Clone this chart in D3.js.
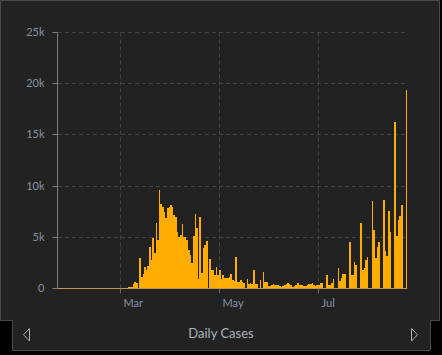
<!DOCTYPE html>
<html>
<head>
<meta charset="utf-8">
<script src="https://cdn.jsdelivr.net/npm/d3@7"></script>
<style>
html,body{margin:0;padding:0;background:#000;}
svg{display:block;font-family:Lato,"Open Sans",sans-serif;}
</style>
</head>
<body>
<svg id="chart" width="442" height="355"></svg>
<script>
// ---- data ----
const startDate = "2020-01-22";
const dailyCases = [
  // Jan 22 - Jan 31
  0,0,0,0,0,0,0,0,0,0,
  // Feb
  1,0,0,0,0,0,0,0,1,0,0,0,0,0,0,0,0,0,0,0,0,0,0,0,4,7,2,17,13,
  // Mar
  39,36,45,57,37,141,100,173,400,622,582,0,2955,1159,1407,2144,1806,2162,4053,2800,4964,3500,6400,4749,9630,8271,7933,7516,6875,7846,7967,
  // Apr
  8195,7947,7134,6969,5478,5029,5267,6278,5002,5051,4754,3804,3268,2442,5103,7304,5891,887,6948,1536,3968,4211,4635,0,2915,1800,1831,1350,2144,1300,
  // May
  1800,900,1350,1050,1050,1000,1150,1400,800,750,3086,594,661,849,643,515,0,908,431,518,482,1787,466,482,0,859,0,1647,658,664,251,
  // Jun
  250,294,394,334,318,332,240,167,249,314,427,502,396,323,181,219,355,585,307,363,334,232,248,334,400,419,564,301,200,301,
  // Jul
  390,550,520,0,0,1300,350,380,500,900,0,0,2045,700,1000,1400,1400,0,0,4581,1358,1357,2615,2255,0,0,6361,1829,2031,2789,3092,
  // Aug 1 - Aug 24
  0,0,8532,5760,2953,4088,4507,0,0,8618,3632,3172,7550,5479,0,0,16269,5114,6671,7039,8148,0,0,19382
];
const yTicks = [0, 5000, 10000, 15000, 20000, 25000];
const yTickLabels = ["0", "5k", "10k", "15k", "20k", "25k"];
const xTickDates = ["2020-03-01", "2020-05-01", "2020-07-01"];
const xTickLabels = ["Mar", "May", "Jul"];
const footerTitle = "Daily Cases";

// ---- setup ----
const parse = d3.utcParse("%Y-%m-%d");
const start = parse(startDate);
const data = dailyCases.map((v, i) => ({date: d3.utcDay.offset(start, i), value: v}));

const svg = d3.select("#chart");

// panel with tab
svg.append("path")
  .attr("d", "M0.5,320.5 V0.5 H439.5 V320.5 H430.5 V350.5 H12.5 V320.5 Z")
  .attr("fill", "#222222")
  .attr("stroke", "#4a4a4a")
  .attr("stroke-width", 1);

const x = d3.scaleUtc()
  .domain([start, d3.utcDay.offset(start, dailyCases.length)])
  .range([57, 408]);
const y = d3.scaleLinear().domain([0, 25000]).range([288.5, 32.5]);
const crisp = v => Math.floor(v) + 0.5;

// grid
const grid = svg.append("g").attr("stroke", "#434343").attr("stroke-dasharray", "4,3").attr("fill", "none");
grid.selectAll("line.h").data(yTicks.slice(1)).join("line")
  .attr("class", "h")
  .attr("x1", 58).attr("x2", 407)
  .attr("y1", d => crisp(y(d))).attr("y2", d => crisp(y(d)));
grid.selectAll("line.v").data(xTickDates.map(parse)).join("line")
  .attr("class", "v")
  .attr("x1", d => crisp(x(d))).attr("x2", d => crisp(x(d)))
  .attr("y1", y(25000)).attr("y2", y(0));

// bars (pixel-snapped edges so neighbouring bars join without seams)
const step = x(d3.utcDay.offset(start, 1)) - x(start);
const left = d => Math.round(x(d.date) - step / 2 + 0.3);
const right = d => Math.round(x(d.date) + step / 2 + 0.3);
svg.append("g").attr("fill", "#ffad00").attr("shape-rendering", "crispEdges")
  .selectAll("rect").data(data.filter(d => d.value > 0)).join("rect")
  .attr("x", left)
  .attr("width", d => Math.max(1, right(d) - left(d)))
  .attr("y", d => Math.round(y(d.value)))
  .attr("height", d => Math.round(y(0) + 0.5) - Math.round(y(d.value)));

// baseline
svg.append("line")
  .attr("x1", 57).attr("x2", x(data[data.length - 1].date) + step / 2)
  .attr("y1", y(0)).attr("y2", y(0))
  .attr("stroke", "#c29a4c").attr("stroke-width", 1);

// y axis
const yAxis = d3.axisLeft(y)
  .tickValues(yTicks)
  .tickFormat((d, i) => yTickLabels[i])
  .tickSizeInner(5).tickSizeOuter(5).tickPadding(8).offset(0);
const gy = svg.append("g").attr("transform", "translate(57.5,0)").call(yAxis);
gy.selectAll(".tick").attr("transform", d => `translate(0,${crisp(y(d))})`);
gy.select(".domain").attr("stroke", "#7c7c7c");
gy.selectAll(".tick line").attr("stroke", "#7c7c7c");
gy.selectAll(".tick text").attr("fill", "#8593a0").attr("font-size", 11)
  .attr("font-family", "Lato, 'Open Sans', sans-serif");

// x axis
const xAxis = d3.axisBottom(x)
  .tickValues(xTickDates.map(parse))
  .tickFormat((d, i) => xTickLabels[i])
  .tickSizeInner(5).tickSizeOuter(0).tickPadding(6).offset(0);
const gx = svg.append("g").attr("transform", `translate(0,${y(0)})`).call(xAxis);
gx.select(".domain").remove();
gx.selectAll(".tick").attr("transform", d => `translate(${crisp(x(d))},0)`);
gx.selectAll(".tick line").attr("stroke", "#6c6c6c");
gx.selectAll(".tick text").attr("fill", "#8593a0").attr("font-size", 11)
  .attr("text-anchor", "start").attr("dx", 3)
  .attr("font-family", "Lato, 'Open Sans', sans-serif");

// footer
svg.append("text")
  .attr("x", 221).attr("y", 338)
  .attr("text-anchor", "middle")
  .attr("fill", "#aab4bf")
  .attr("font-size", 13)
  .text(footerTitle);
svg.append("path")
  .attr("d", "M29.5,328.5 L29.5,341 L23.5,334.75 Z")
  .attr("fill", "none").attr("stroke", "#aab4bf").attr("stroke-width", 1);
svg.append("path")
  .attr("d", "M411.5,328.5 L411.5,341 L417.5,334.75 Z")
  .attr("fill", "none").attr("stroke", "#aab4bf").attr("stroke-width", 1);
</script>
</body>
</html>
